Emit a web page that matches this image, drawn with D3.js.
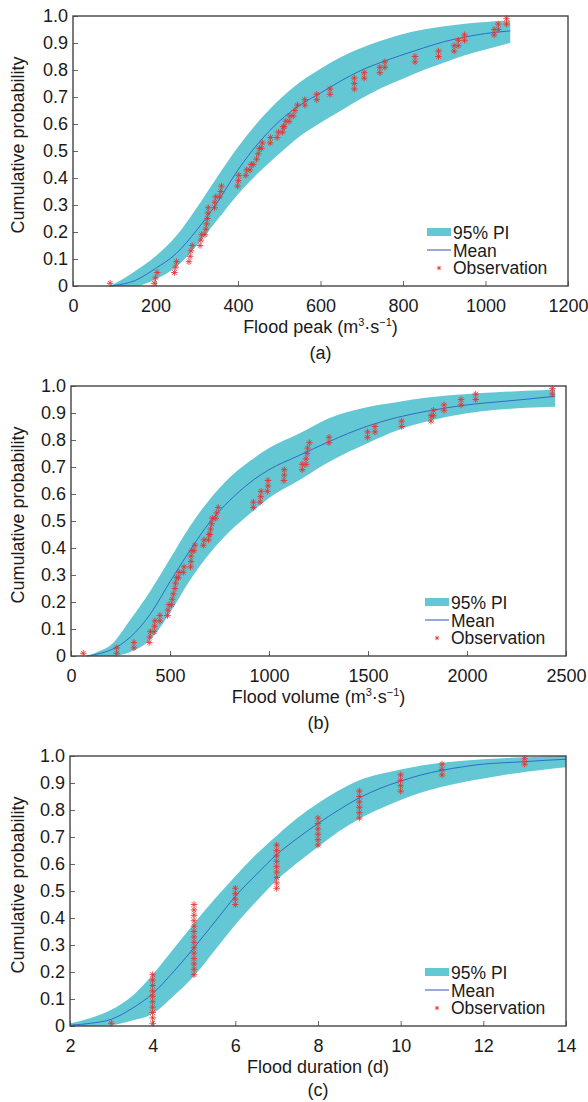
<!DOCTYPE html>
<html>
<head>
<meta charset="utf-8">
<script src="https://cdn.jsdelivr.net/npm/d3@7"></script>
<style>
  body { margin: 0; background: #fff; }
  svg { display: block; font-family: "Liberation Sans", Arial, sans-serif; }
</style>
</head>
<body>
<div id="chart"></div>
<script>
// ---- data ----
const probTicks = [0, 0.1, 0.2, 0.3, 0.4, 0.5, 0.6, 0.7, 0.8, 0.9, 1.0];
const probLabels = ["0", "0.1", "0.2", "0.3", "0.4", "0.5", "0.6", "0.7", "0.8", "0.9", "1.0"];

// (a) flood peak
const peakTicks = [0, 200, 400, 600, 800, 1000, 1200];
const peakX = [90, 100, 150, 200, 250, 300, 350, 400, 450, 500, 550, 600, 650, 700, 750, 800, 850, 900, 950, 1000, 1060];
const peakLower = [0, 0, 0, 0.025, 0.07, 0.15, 0.245, 0.34, 0.42, 0.49, 0.555, 0.605, 0.65, 0.695, 0.735, 0.768, 0.8, 0.828, 0.855, 0.876, 0.9];
const peakMean = [0, 0.002, 0.02, 0.065, 0.12, 0.207, 0.31, 0.43, 0.53, 0.61, 0.67, 0.715, 0.76, 0.8, 0.83, 0.857, 0.882, 0.905, 0.922, 0.935, 0.945];
const peakUpper = [0, 0.008, 0.055, 0.11, 0.185, 0.29, 0.405, 0.515, 0.61, 0.69, 0.755, 0.805, 0.848, 0.882, 0.91, 0.933, 0.95, 0.962, 0.971, 0.978, 0.983];
const peakObs = [
  [90, .01], [197, .01], [200, .03], [204, .05], [246, .05], [249, .07], [251, .09],
  [281, .09], [284, .11], [286, .13], [289, .15], [308, .15], [310, .17], [312, .19],
  [320, .19], [322, .21], [324, .23], [326, .25], [327, .27], [328, .29],
  [343, .29], [344, .31], [346, .33], [355, .33], [358, .35], [360, .37],
  [399, .37], [401, .39], [402, .41], [419, .41], [421, .43], [429, .43], [432, .45], [437, .45],
  [445, .47], [449, .49], [452, .51], [457, .51], [459, .53], [478, .53], [479, .55],
  [495, .55], [498, .57], [508, .57], [510, .59], [512, .59], [516, .61], [524, .61], [526, .63],
  [534, .63], [538, .65], [544, .67], [562, .67], [562, .69], [591, .69], [591, .71],
  [623, .71], [623, .73], [682, .73], [682, .75], [682, .77], [706, .77], [706, .79],
  [744, .79], [744, .81], [756, .81], [756, .83], [829, .83], [829, .85], [886, .85], [886, .87],
  [924, .87], [924, .89], [934, .89], [934, .91], [949, .91], [949, .93],
  [1021, .93], [1021, .95], [1031, .95], [1031, .97], [1051, .97], [1051, .99]
];

// (b) flood volume
const volTicks = [0, 500, 1000, 1500, 2000, 2500];
const volX = [80, 150, 200, 300, 400, 500, 600, 700, 800, 900, 1000, 1150, 1300, 1500, 1650, 1800, 2000, 2150, 2300, 2445];
const volLower = [0, 0, 0, 0.015, 0.06, 0.16, 0.28, 0.38, 0.46, 0.525, 0.585, 0.65, 0.718, 0.789, 0.836, 0.869, 0.899, 0.912, 0.919, 0.923];
const volMean = [0, 0.01, 0.022, 0.07, 0.155, 0.275, 0.39, 0.495, 0.575, 0.64, 0.69, 0.742, 0.793, 0.852, 0.884, 0.907, 0.93, 0.941, 0.951, 0.962];
const volUpper = [0, 0.02, 0.04, 0.135, 0.24, 0.36, 0.48, 0.58, 0.66, 0.72, 0.77, 0.823, 0.88, 0.922, 0.941, 0.957, 0.97, 0.977, 0.982, 0.987];
const volObs = [
  [62, .01], [231, .01], [231, .03], [318, .03], [318, .05],
  [395, .05], [398, .07], [401, .09], [420, .09], [422, .11], [424, .13], [449, .13], [449, .15],
  [487, .15], [490, .17], [495, .19], [508, .19], [511, .21], [517, .23], [525, .25], [528, .27], [534, .29],
  [542, .29], [546, .31], [567, .31], [571, .33], [604, .33], [606, .35], [606, .37], [610, .39],
  [621, .39], [626, .41], [668, .41], [672, .43], [694, .43], [697, .45],
  [702, .45], [705, .47], [710, .49], [714, .51], [731, .51], [736, .53], [744, .55],
  [921, .55], [921, .57], [955, .57], [958, .59], [960, .61], [992, .61], [995, .63], [995, .65],
  [1075, .65], [1077, .67], [1077, .69], [1168, .69], [1168, .71],
  [1187, .71], [1187, .73], [1192, .75], [1195, .77], [1204, .79],
  [1303, .79], [1303, .81], [1498, .81], [1498, .83], [1535, .83], [1535, .85],
  [1670, .85], [1670, .87], [1818, .87], [1818, .89], [1830, .89], [1830, .91],
  [1884, .91], [1884, .93], [1970, .93], [1970, .95], [2044, .95], [2044, .97], [2431, .97], [2431, .99]
];

// (c) flood duration
const durTicks = [2, 4, 6, 8, 10, 12, 14];
const durX = [2, 2.5, 3, 3.5, 4, 4.5, 5, 5.5, 6, 6.5, 7, 7.5, 8, 8.5, 9, 9.5, 10, 10.5, 11, 11.5, 12, 12.5, 13, 13.5, 14];
const durLower = [0, 0, 0.003, 0.02, 0.045, 0.11, 0.185, 0.28, 0.375, 0.46, 0.54, 0.605, 0.663, 0.72, 0.768, 0.805, 0.837, 0.865, 0.886, 0.903, 0.917, 0.93, 0.941, 0.95, 0.958];
const durMean = [0.003, 0.01, 0.025, 0.065, 0.12, 0.2, 0.29, 0.385, 0.48, 0.56, 0.635, 0.695, 0.75, 0.8, 0.845, 0.88, 0.907, 0.93, 0.947, 0.96, 0.97, 0.975, 0.979, 0.984, 0.988];
const durUpper = [0.01, 0.03, 0.06, 0.11, 0.19, 0.285, 0.38, 0.47, 0.555, 0.635, 0.705, 0.77, 0.825, 0.872, 0.91, 0.933, 0.95, 0.965, 0.975, 0.982, 0.988, 0.992, 0.995, 0.998, 1.0];
const durObs = [
  [3, .01],
  [4, .01], [4, .03], [4, .05], [4, .07], [4, .09], [4, .11], [4, .13], [4, .15], [4, .17], [4, .19],
  [5, .19], [5, .21], [5, .23], [5, .25], [5, .27], [5, .29], [5, .31], [5, .33], [5, .35], [5, .37], [5, .39], [5, .41], [5, .43], [5, .45],
  [6, .45], [6, .47], [6, .49], [6, .51],
  [7, .51], [7, .53], [7, .55], [7, .57], [7, .59], [7, .61], [7, .63], [7, .65], [7, .67],
  [8, .67], [8, .69], [8, .71], [8, .73], [8, .75], [8, .77],
  [9, .77], [9, .79], [9, .81], [9, .83], [9, .85], [9, .87],
  [10, .87], [10, .89], [10, .91], [10, .93],
  [11, .93], [11, .95], [11, .97],
  [13, .97], [13, .99]
];

// ---- drawing ----
const bandColor = "#63c8d4";
const meanColor = "#2f6cc8";
const obsColor = "#e8332f";
const axisColor = "#444";
const textColor = "#1a1a1a";
const fontSize = "18px";

const svg = d3.select("#chart").append("svg")
  .attr("width", 588)
  .attr("height", 1102);

function star(s) {
  const a = s * 0.7;
  return "M" + -s + ",0H" + s + "M0," + -s + "V" + s +
    "M" + -a + "," + -a + "L" + a + "," + a + "M" + -a + "," + a + "L" + a + "," + -a;
}

function drawPanel(cfg) {
  let left = cfg.left, right = cfg.right, top = cfg.top, bottom = cfg.top + 270;

  let x = d3.scaleLinear().domain(cfg.xDomain).range([left, right]);
  let y = d3.scaleLinear().domain([0, 1]).range([bottom, top]);

  let g = svg.append("g");

  let rows = cfg.bx.map((v, i) => ({ x: v, lo: cfg.lower[i], m: cfg.mean[i], hi: cfg.upper[i] }));

  // band
  g.append("path")
    .datum(rows)
    .attr("fill", bandColor)
    .attr("d", d3.area()
      .curve(d3.curveMonotoneX)
      .x((d) => x(d.x))
      .y0((d) => y(d.lo))
      .y1((d) => y(d.hi)));

  // mean
  g.append("path")
    .datum(rows)
    .attr("fill", "none")
    .attr("stroke", meanColor)
    .attr("stroke-width", 1)
    .attr("d", d3.line()
      .curve(d3.curveMonotoneX)
      .x((d) => x(d.x))
      .y((d) => y(d.m)));

  // observations
  g.selectAll("path.obs")
    .data(cfg.obs)
    .enter()
    .append("path")
    .attr("class", "obs")
    .attr("transform", (d) => "translate(" + x(d[0]) + "," + y(d[1]) + ")")
    .attr("d", star(3.3))
    .attr("fill", "none")
    .attr("stroke", obsColor)
    .attr("stroke-width", 1)
    .attr("opacity", 0.85);

  // axes, ticks pointing inward
  let xAxis = g.append("g")
    .attr("transform", "translate(0," + bottom + ")")
    .call(d3.axisBottom(x).tickValues(cfg.xTicks).tickSize(-5).tickPadding(13).tickFormat(d3.format("d")));
  let yAxis = g.append("g")
    .attr("transform", "translate(" + left + ",0)")
    .call(d3.axisLeft(y).tickValues(probTicks).tickSize(-5).tickPadding(5)
      .tickFormat((d, i) => probLabels[i]));

  [xAxis, yAxis].forEach((a) => {
    a.select(".domain").remove();
    a.selectAll(".tick line").attr("stroke", "#666");
    a.selectAll(".tick text")
      .attr("fill", textColor)
      .style("font-size", fontSize)
      .style("font-family", "'Liberation Sans', Arial, sans-serif");
  });

  // box
  g.append("rect")
    .attr("x", left)
    .attr("y", top)
    .attr("width", right - left)
    .attr("height", bottom - top)
    .attr("fill", "none")
    .attr("stroke", axisColor)
    .attr("stroke-width", 1.4);

  // y title
  g.append("text")
    .attr("transform", "translate(24," + ((top + bottom) / 2 - 6) + ") rotate(-90)")
    .attr("text-anchor", "middle")
    .style("font-size", fontSize)
    .attr("fill", textColor)
    .text("Cumulative probability");

  // x title with superscripts
  let t = g.append("text")
    .attr("x", (left + right) / 2)
    .attr("y", bottom + 47)
    .attr("text-anchor", "middle")
    .style("font-size", fontSize)
    .attr("fill", textColor);
  let shift = 0;
  cfg.xTitle.forEach((part) => {
    if (typeof part === "string") {
      t.append("tspan").attr("dy", shift).text(part);
      shift = 0;
    } else {
      t.append("tspan").attr("dy", -7 - shift).style("font-size", "11px").text(part.sup);
      shift = 7;
    }
  });

  // panel tag
  g.append("text")
    .attr("x", (left + right) / 2)
    .attr("y", Math.min(bottom + 73, 1096))
    .attr("text-anchor", "middle")
    .style("font-size", fontSize)
    .attr("fill", textColor)
    .text(cfg.tag);

  // legend
  let lg = g.append("g");
  lg.append("rect")
    .attr("x", right - 141)
    .attr("y", bottom - 58)
    .attr("width", 24)
    .attr("height", 8)
    .attr("fill", bandColor);
  lg.append("line")
    .attr("x1", right - 141)
    .attr("x2", right - 117)
    .attr("y1", bottom - 36)
    .attr("y2", bottom - 36)
    .attr("stroke", "#2f55b0")
    .attr("stroke-width", 1);
  lg.append("path")
    .attr("transform", "translate(" + (right - 129) + "," + (bottom - 18) + ")")
    .attr("d", star(2.2))
    .attr("fill", "none")
    .attr("stroke", obsColor)
    .attr("stroke-width", 1)
    .attr("opacity", 0.8);
  ["95% PI", "Mean", "Observation"].forEach((s, i) => {
    lg.append("text")
      .attr("x", right - 115)
      .attr("y", bottom - 47 + i * 17.5)
      .style("font-size", "17.5px")
      .attr("fill", textColor)
      .text(s);
  });
}

drawPanel({
  left: 73, right: 568, top: 16,
  xDomain: [0, 1200], xTicks: peakTicks,
  bx: peakX, lower: peakLower, mean: peakMean, upper: peakUpper, obs: peakObs,
  xTitle: ["Flood peak (m", { sup: "3" }, "\u00b7s", { sup: "\u22121" }, ")"],
  tag: "(a)"
});

drawPanel({
  left: 71, right: 566, top: 386,
  xDomain: [0, 2500], xTicks: volTicks,
  bx: volX, lower: volLower, mean: volMean, upper: volUpper, obs: volObs,
  xTitle: ["Flood volume (m", { sup: "3" }, "\u00b7s", { sup: "\u22121" }, ")"],
  tag: "(b)"
});

drawPanel({
  left: 70, right: 566, top: 756,
  xDomain: [2, 14], xTicks: durTicks,
  bx: durX, lower: durLower, mean: durMean, upper: durUpper, obs: durObs,
  xTitle: ["Flood duration (d)"],
  tag: "(c)"
});
</script>
</body>
</html>
